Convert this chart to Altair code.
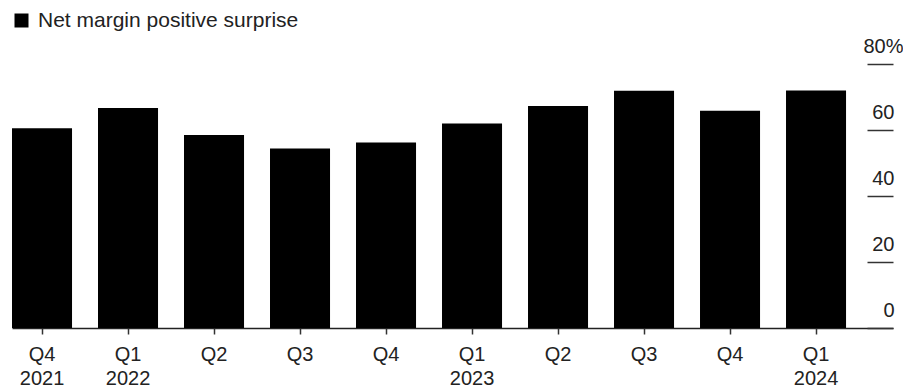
import altair as alt
import pandas as pd

quarters = ["Q4", "Q1", "Q2", "Q3", "Q4", "Q1", "Q2", "Q3", "Q4", "Q1"]
years = ["2021", "2022", "2022", "2022", "2022", "2023", "2023", "2023", "2023", "2024"]
show_year = [True, True, False, False, False, True, False, False, False, True]
values = [60.5, 66.7, 58.5, 54.4, 56.2, 62.0, 67.3, 71.9, 65.8, 72.0]
series_name = "Net margin positive surprise"
y_ticks = [0, 20, 40, 60, 80]

cats = [f"{q} {y}" for q, y in zip(quarters, years)]
shown = [c for c, s in zip(cats, show_year) if s]
df = pd.DataFrame({"period": cats, "value": values, "series": series_name})

FONT = "Liberation Sans"
W, H = 881, 264
shown_js = "[" + ",".join(f"'{s}'" for s in shown) + "]"

chart = (
    alt.Chart(df)
    .mark_bar(color="black")
    .encode(
        x=alt.X(
            "period:N",
            sort=cats,
            title=None,
            scale=alt.Scale(paddingInner=0.302, paddingOuter=0.273, align=0),
            axis=alt.Axis(
                labelAngle=0,
                labelExpr=f"indexof({shown_js}, datum.label) >= 0 ? split(datum.label, ' ') : split(datum.label, ' ')[0]",
                labelFont=FONT,
                labelFontSize=20,
                labelColor="#222222",
                labelLineHeight=24,
                labelBaseline="top",
                labelPadding=10,
                tickSize=6,
                tickColor="#333333",
                tickWidth=1.5,
                domainColor="#222222",
                domainWidth=1.5,
                grid=False,
            ),
        ),
        y=alt.Y(
            "value:Q",
            title=None,
            scale=alt.Scale(domain=[0, 80], nice=False),
            axis=alt.Axis(
                orient="left",
                offset=-W,
                values=y_ticks,
                labelExpr="datum.value == 80 ? '80%' : datum.label",
                labelFont=FONT,
                labelFontSize=20,
                labelColor="#222222",
                labelAlign={"condition": {"test": "datum.value == 80", "value": "left"}, "value": "right"},
                labelPadding={"condition": {"test": "datum.value == 80", "value": 4}, "value": -27},
                labelBaseline="alphabetic",
                labelOffset=-12,
                tickSize=26,
                tickColor="#333333",
                tickWidth=1.5,
                domain=False,
                grid=False,
            ),
        ),
        color=alt.Color(
            "series:N",
            scale=alt.Scale(range=["black"]),
            legend=alt.Legend(
                title=None,
                orient="none",
                legendX=-1,
                legendY=-54,
                symbolType="square",
                symbolSize=196,
                symbolStrokeWidth=0,
                labelFont=FONT,
                labelFontSize=21,
                labelColor="#222222",
                labelOffset=6,
                labelLimit=0,
                padding=0,
            ),
        ),
    )
    .properties(
        width=W,
        height=H,
        autosize=alt.AutoSizeParams(type="none"),
        padding={"left": 4, "top": 56, "right": 10, "bottom": 63},
    )
    .configure_view(stroke=None)
)

chart.save("out.html", embed_options={"renderer": "svg", "actions": False})
